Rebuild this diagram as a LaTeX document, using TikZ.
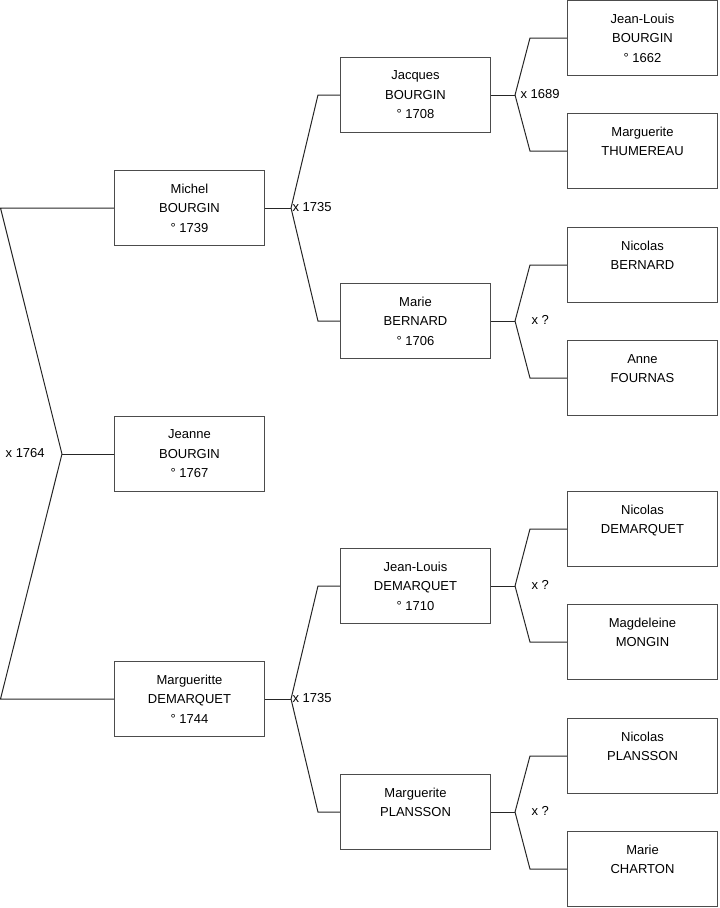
\documentclass[tikz,border=0pt]{standalone}
\usepackage{fontspec}
\setmainfont{Liberation Sans}
\usetikzlibrary{calc}

\begin{document}
\begin{tikzpicture}[x=0.75pt, y=-0.75pt,
    every node/.style={font=\fontsize{9.75}{14.6}\selectfont},
    personne/.style={draw=black!70, line width=0.8pt, minimum width=112.5pt,
        minimum height=56.25pt, align=center, inner sep=0pt},
    lien/.style={black!85, line width=0.75pt},
    mariage/.style={anchor=west, inner sep=1pt}]

\useasboundingbox (0,0) rectangle (719,908);

% Colonnes : centres en x
\def\colA{189.5}
\def\colB{415.5}
\def\colC{642.5}

% =============================================
% GENERATION 1 : l'enfant
% =============================================
\node[personne] (jeanne) at (\colA,454) {Jeanne\\BOURGIN\\° 1767};

% =============================================
% GENERATION 2 : les parents
% =============================================
\node[personne] (michel)      at (\colA,208) {Michel\\BOURGIN\\° 1739};
\node[personne] (margueritte) at (\colA,699) {Margueritte\\DEMARQUET\\° 1744};

% =============================================
% GENERATION 3 : les grands-parents
% =============================================
\node[personne] (jacques)    at (\colB,95)  {Jacques\\BOURGIN\\° 1708};
\node[personne] (marie)      at (\colB,321) {Marie\\BERNARD\\° 1706};
\node[personne] (jeanlouisd) at (\colB,586) {Jean-Louis\\DEMARQUET\\° 1710};
\node[personne] (marguerite) at (\colB,812) {Marguerite\\PLANSSON\\\mbox{}};

% =============================================
% GENERATION 4 : les arrière-grands-parents
% =============================================
\node[personne] (jeanlouisb) at (\colC,38)  {Jean-Louis\\BOURGIN\\° 1662};
\node[personne] (thumereau)  at (\colC,151) {Marguerite\\THUMEREAU\\\mbox{}};
\node[personne] (nicolasb)   at (\colC,265) {Nicolas\\BERNARD\\\mbox{}};
\node[personne] (anne)       at (\colC,378) {Anne\\FOURNAS\\\mbox{}};
\node[personne] (nicolasd)   at (\colC,529) {Nicolas\\DEMARQUET\\\mbox{}};
\node[personne] (magdeleine) at (\colC,642) {Magdeleine\\MONGIN\\\mbox{}};
\node[personne] (nicolasp)   at (\colC,756) {Nicolas\\PLANSSON\\\mbox{}};
\node[personne] (mariec)     at (\colC,869) {Marie\\CHARTON\\\mbox{}};

% =============================================
% Liens : mariage des parents de Jeanne
% =============================================
\coordinate (bord) at (0.5,0);
\coordinate (u0) at ($(jeanne.west)+(-52,0)$);
\draw[lien] (jeanne.west) -- (u0);
\draw[lien] (michel.west) -- (michel.west -| bord) -- (u0);
\draw[lien] (margueritte.west) -- (margueritte.west -| bord) -- (u0);
\node[anchor=east, inner sep=0pt] (m0) at ($(u0)+(-17,-1)$) {x 1764};

% Mariages de la generation 3 (enfant, pere, mere, date, decalage)
\foreach \enf/\pere/\mere/\date/\dx in {michel/jacques/marie/x 1735/0,
        margueritte/jeanlouisd/marguerite/x 1735/0} {
    \coordinate (u\enf) at ($(\enf.east)+(26,0)$);
    \draw[lien] (\enf.east) -- (u\enf);
    \draw[lien] (\pere.west) -- ++(-22,0) -- (u\enf);
    \draw[lien] (\mere.west) -- ++(-22,0) -- (u\enf);
    \node[mariage] (m\enf) at ($(u\enf)+(\dx,-1)$) {\date};
}

% Mariages de la generation 4
\foreach \enf/\pere/\mere/\date/\dx in {jacques/jeanlouisb/thumereau/x 1689/4,
        marie/nicolasb/anne/x ?/15,
        jeanlouisd/nicolasd/magdeleine/x ?/15,
        marguerite/nicolasp/mariec/x ?/15} {
    \coordinate (u\enf) at ($(\enf.east)+(24,0)$);
    \draw[lien] (\enf.east) -- (u\enf);
    \draw[lien] (\pere.west) -- ++(-37,0) -- (u\enf);
    \draw[lien] (\mere.west) -- ++(-37,0) -- (u\enf);
    \node[mariage] (m\enf) at ($(u\enf)+(\dx,-1)$) {\date};
}

\end{tikzpicture}
\end{document}
